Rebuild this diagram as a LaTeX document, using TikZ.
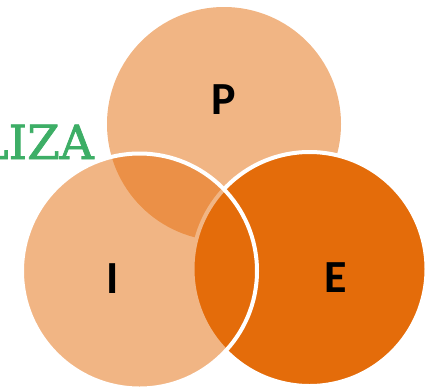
\documentclass[tikz,border=0pt]{standalone}
\usepackage{fontspec}
\setmainfont{DejaVu Serif}
\newfontfamily\lizafont[FakeBold=1.5]{DejaVu Serif}
\newfontfamily\labelfont{Carlito}
\definecolor{accent}{HTML}{E46C0A}
\definecolor{lizagreen}{HTML}{3DAE66}
\begin{document}
\begin{tikzpicture}[x=1pt,y=-1pt,
  halfcircle/.style={fill=accent,fill opacity=0.5},
  solidcircle/.style={fill=accent,draw=white,line width=4pt},
  outlinedhalf/.style={fill=accent,fill opacity=0.5,draw=white,draw opacity=1,line width=4pt},
  lettertext/.style={font=\labelfont\bfseries\fontsize{46}{46}\selectfont,text=black,inner sep=0pt},
  lizatext/.style={font=\lizafont\fontsize{47}{47}\selectfont,text=lizagreen,inner sep=0pt,anchor=base east}]
\useasboundingbox (0,0) rectangle (431,389);
\clip (0,0) rectangle (431,389);
\node[lizatext] (liza) at (94,159) {LIZA};
\path[halfcircle] (224,124) circle (117);
\path[solidcircle] (309.5,269) circle (117);
\path[outlinedhalf] (139.5,271) circle (117.5);
\node[lettertext] (p) at (224,100) {P};
\node[lettertext] (i) at (113,279) {I};
\node[lettertext] (e) at (336,277.5) {E};
\end{tikzpicture}
\end{document}
